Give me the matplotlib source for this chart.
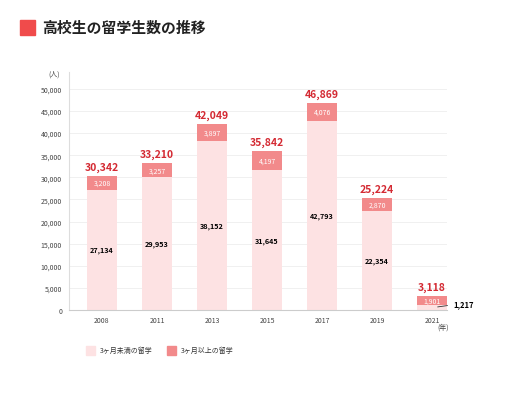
import matplotlib.pyplot as plt
import numpy as np

plt.rcParams['font.family'] = ['Noto Sans CJK JP', 'DejaVu Sans']

years = ['2008', '2011', '2013', '2015', '2017', '2019', '2021']
under3 = [27134, 29953, 38152, 31645, 42793, 22354, 1217]
over3 = [3208, 3257, 3897, 4197, 4076, 2870, 1901]
totals = [30342, 33210, 42049, 35842, 46869, 25224, 3118]

light = '#fde2e3'
dark = '#f28a8b'
red = '#d42a33'

fig = plt.figure(figsize=(5.12, 4.14), dpi=100)
ax = fig.add_axes([69 / 512, 1 - 311 / 414, (447 - 69) / 512, (311 - 73) / 414])

x = np.arange(len(years))
w = 0.55
ax.bar(x, under3, w, color=light, zorder=2)
ax.bar(x, over3, w, bottom=under3, color=dark, zorder=2)

for i in range(len(years)):
    ax.text(x[i], totals[i] + 900, f'{totals[i]:,}', ha='center', va='bottom',
            color=red, fontsize=7.5, fontweight='bold')
    ax.text(x[i], under3[i] + over3[i] / 2, f'{over3[i]:,}', ha='center', va='center',
            color='white', fontsize=5)
    if i < len(years) - 1:
        ax.text(x[i], under3[i] / 2, f'{under3[i]:,}', ha='center', va='center',
                color='black', fontsize=5.2, fontweight='bold')

# leader for the small 2021 value
ax.annotate(f'{under3[-1]:,}', xy=(x[-1] + 0.05, under3[-1] / 2), xytext=(x[-1] + 0.38, 1500),
            fontsize=5.5, fontweight='bold', va='center', ha='left',
            arrowprops=dict(arrowstyle='-', color='#333333', lw=0.6))

ax.set_xlim(-0.6, 6.27)
ax.set_ylim(0, 53800)
ax.set_yticks(range(0, 50001, 5000))
ax.set_yticklabels([f'{v:,}' for v in range(0, 50001, 5000)])
ax.set_xticks(x)
ax.set_xticklabels(years)
ax.tick_params(length=0, labelsize=5, colors='#444444')
ax.tick_params(axis='x', pad=4)
ax.tick_params(axis='y', pad=5)
ax.yaxis.grid(True, color='#eeeeee', lw=0.6, zorder=0)
for s in ['top', 'right']:
    ax.spines[s].set_visible(False)
ax.spines['left'].set_color('#dddddd')
ax.spines['bottom'].set_color('#cccccc')
ax.spines['left'].set_linewidth(0.8)
ax.spines['bottom'].set_linewidth(0.8)

fig.text(48 / 512, 1 - 75 / 414, '(人)', fontsize=5, color='#444444', va='center')
fig.text(443 / 512, 1 - 328 / 414, '(年)', fontsize=5, color='#444444', va='center', ha='center')

# title
fig.patches.append(plt.Rectangle((20 / 512, 1 - 36 / 414), 15 / 512, 15 / 414,
                                 transform=fig.transFigure, color='#f04b4b'))
fig.text(42 / 512, 1 - 28 / 414, '高校生の留学生数の推移', fontsize=10.7,
         fontweight='bold', color='#222222', va='center')

# legend
fig.patches.append(plt.Rectangle((86 / 512, 1 - 356 / 414), 9 / 512, 9 / 414,
                                 transform=fig.transFigure, color=light))
fig.text(100 / 512, 1 - 351 / 414, '3ヶ月未満の留学', fontsize=5, color='#333333', va='center')
fig.patches.append(plt.Rectangle((167 / 512, 1 - 356 / 414), 9 / 512, 9 / 414,
                                 transform=fig.transFigure, color=dark))
fig.text(181 / 512, 1 - 351 / 414, '3ヶ月以上の留学', fontsize=5, color='#333333', va='center')

fig.savefig('out.png', dpi=100)
